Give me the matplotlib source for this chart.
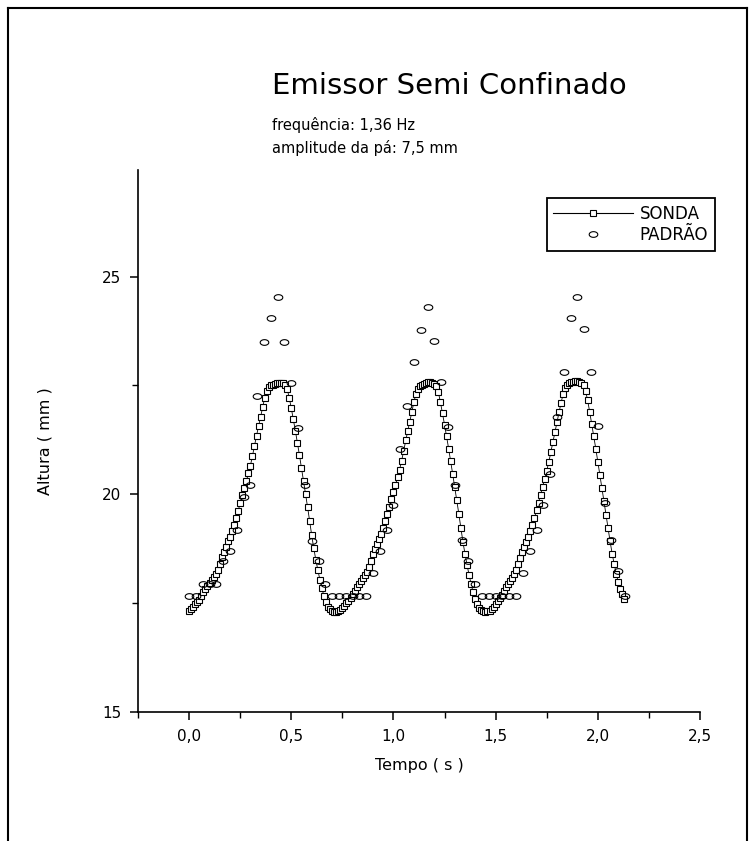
import numpy as np
import matplotlib
matplotlib.use("Agg")
import matplotlib.pyplot as plt
from matplotlib.lines import Line2D
from matplotlib.path import Path
from matplotlib.ticker import MultipleLocator, FuncFormatter

# ---- data -------------------------------------------------------------
# SONDA: probe height (mm) sampled every 0.01 s starting at t = 0
sonda_dt = 0.01
sonda_altura = [
    # 0.00 - 0.73
    17.33, 17.36, 17.42, 17.48, 17.53, 17.58, 17.66, 17.75, 17.83, 17.90,
    17.97, 18.04, 18.10, 18.17, 18.27, 18.40, 18.55, 18.68, 18.80, 18.92,
    19.02, 19.15, 19.30, 19.45, 19.62, 19.80, 19.98, 20.14, 20.30, 20.48,
    20.66, 20.88, 21.12, 21.35, 21.56, 21.78, 22.00, 22.22, 22.38, 22.46,
    22.50, 22.52, 22.54, 22.55, 22.56, 22.56, 22.55, 22.52, 22.42, 22.22,
    21.98, 21.72, 21.46, 21.18, 20.90, 20.60, 20.30, 20.00, 19.70, 19.38,
    19.06, 18.76, 18.50, 18.26, 18.04, 17.84, 17.66, 17.52, 17.42, 17.36,
    17.32, 17.30, 17.30, 17.31,
    # 0.74 - 1.46
    17.34, 17.38, 17.44, 17.50, 17.56, 17.62, 17.70, 17.79, 17.87, 17.94,
    18.00, 18.07, 18.14, 18.22, 18.34, 18.48, 18.62, 18.75, 18.86, 18.97,
    19.08, 19.22, 19.38, 19.54, 19.71, 19.89, 20.06, 20.22, 20.39, 20.57,
    20.77, 21.00, 21.24, 21.46, 21.67, 21.89, 22.12, 22.31, 22.43, 22.49,
    22.52, 22.54, 22.56, 22.57, 22.57, 22.56, 22.54, 22.48, 22.34, 22.11,
    21.86, 21.60, 21.33, 21.05, 20.76, 20.46, 20.16, 19.86, 19.55, 19.22,
    18.91, 18.63, 18.38, 18.15, 17.94, 17.75, 17.59, 17.47, 17.39, 17.34,
    17.31, 17.30, 17.31,
    # 1.47 - 2.14
    17.33, 17.37, 17.42, 17.48, 17.54, 17.61, 17.69, 17.78, 17.86, 17.93,
    18.00, 18.08, 18.16, 18.26, 18.39, 18.53, 18.67, 18.80, 18.91, 19.02,
    19.15, 19.30, 19.46, 19.63, 19.81, 19.99, 20.17, 20.35, 20.54, 20.74,
    20.97, 21.21, 21.44, 21.66, 21.88, 22.10, 22.30, 22.44, 22.51, 22.55,
    22.57, 22.59, 22.60, 22.60, 22.59, 22.56, 22.50, 22.38, 22.16, 21.90,
    21.62, 21.34, 21.05, 20.75, 20.45, 20.14, 19.84, 19.53, 19.22, 18.92,
    18.64, 18.40, 18.18, 17.98, 17.82, 17.70, 17.60,
]

# PADRÃO: reference gauge height (mm) sampled at 30 Hz starting at t = 0
padrao_dt = 1.0 / 30.0
padrao_altura = [
    17.66, 17.66, 17.93, 17.93, 17.93, 18.46, 18.69, 19.19, 19.95, 20.22,
    22.27, 23.51, 24.04, 24.53, 23.51, 22.55, 21.52, 20.22, 18.92, 18.46,
    17.93, 17.66, 17.66, 17.66, 17.66, 17.66, 17.66, 18.20, 18.69, 19.19,
    19.76, 21.03, 22.02, 23.03, 23.78, 24.30, 23.52, 22.57, 21.54, 20.22,
    18.96, 18.46, 17.93, 17.66, 17.66, 17.66, 17.66, 17.66, 17.66, 18.20,
    18.69, 19.19, 19.76, 20.47, 21.77, 22.82, 24.06, 24.54, 23.79, 22.82,
    21.56, 19.80, 18.96, 18.23, 17.66,
]

x_ticks = [0.0, 0.5, 1.0, 1.5, 2.0, 2.5]
y_ticks = [15, 20, 25]

titulo = "Emissor Semi Confinado"
linha_freq = "frequência: 1,36 Hz"
linha_amp = "amplitude da pá: 7,5 mm"

# ---- figure -----------------------------------------------------------
W, H = 756, 841
fig = plt.figure(figsize=(W / 100, H / 100), dpi=100)
fig.patch.set_facecolor("white")
plt.rcParams["font.family"] = ["DejaVu Sans"]

ax = fig.add_axes([138 / W, 1 - 712 / H, 562 / W, 542 / H])

t_sonda = np.arange(len(sonda_altura)) * sonda_dt
t_padrao = np.arange(len(padrao_altura)) * padrao_dt

# flattened ellipse used for the open "circle" markers
theta = np.linspace(0, 2 * np.pi, 41)
ellipse = Path(np.column_stack([np.cos(theta), 0.66 * np.sin(theta)]))

ax.plot(t_sonda, sonda_altura, color="black", lw=0.6, marker="s",
        ms=3.8, mfc="white", mec="black", mew=0.8, zorder=3)
ax.plot(t_padrao, padrao_altura, ls="none", marker=ellipse, ms=6.2,
        mfc="none", mec="black", mew=0.8, zorder=4)

ax.set_xlim(-0.25, 2.5)
ax.set_ylim(15, 27.45)
for side in ("top", "right"):
    ax.spines[side].set_visible(False)
for side in ("left", "bottom"):
    ax.spines[side].set_linewidth(1.2)

ax.set_xticks(x_ticks)
ax.set_yticks(y_ticks)
ax.xaxis.set_minor_locator(MultipleLocator(0.25))
ax.yaxis.set_minor_locator(MultipleLocator(2.5))
ax.xaxis.set_major_formatter(FuncFormatter(lambda v, p: f"{v:.1f}".replace(".", ",")))
ax.tick_params(which="major", direction="out", length=6, width=1.1,
               labelsize=11, pad=6)
ax.tick_params(which="minor", direction="out", length=4, width=1.0)

ax.set_xlabel("Tempo ( s )", fontsize=11.5, labelpad=10)
ax.set_ylabel("Altura ( mm )", fontsize=11.5, labelpad=36)

# title block, left-aligned
fig.text(272 / W, 1 - 86 / H, titulo, fontsize=21, ha="left", va="center")
fig.text(272 / W, 1 - 125 / H, linha_freq, fontsize=10.5,
         ha="left", va="center")
fig.text(272 / W, 1 - 148 / H, linha_amp, fontsize=10.5,
         ha="left", va="center")

# legend
h_sonda = Line2D([], [], color="black", lw=0.8, marker="s", ms=3.8,
                 mfc="white", mec="black", mew=0.8)
h_padrao = Line2D([], [], ls="none", marker=ellipse, ms=6.2,
                  mfc="none", mec="black", mew=0.8)
leg = fig.legend([h_sonda, h_padrao], ["SONDA", "PADRÃO"],
                 loc="upper right", bbox_to_anchor=(715 / W, 1 - 198 / H),
                 bbox_transform=fig.transFigure, frameon=True, fancybox=False,
                 edgecolor="black", framealpha=1, fontsize=12,
                 handlelength=4.8, handletextpad=0.4, borderpad=0.4,
                 labelspacing=0.2, borderaxespad=0)
leg.get_frame().set_linewidth(1.3)

# page border
border = dict(color="black", lw=1.5, transform=fig.transFigure)
fig.add_artist(Line2D([8 / W, 8 / W], [0, 1 - 8 / H], **border))
fig.add_artist(Line2D([8 / W, 747 / W], [1 - 8 / H, 1 - 8 / H], **border))
fig.add_artist(Line2D([747 / W, 747 / W], [0, 1 - 8 / H], **border))

fig.savefig("out.png", dpi=100)
